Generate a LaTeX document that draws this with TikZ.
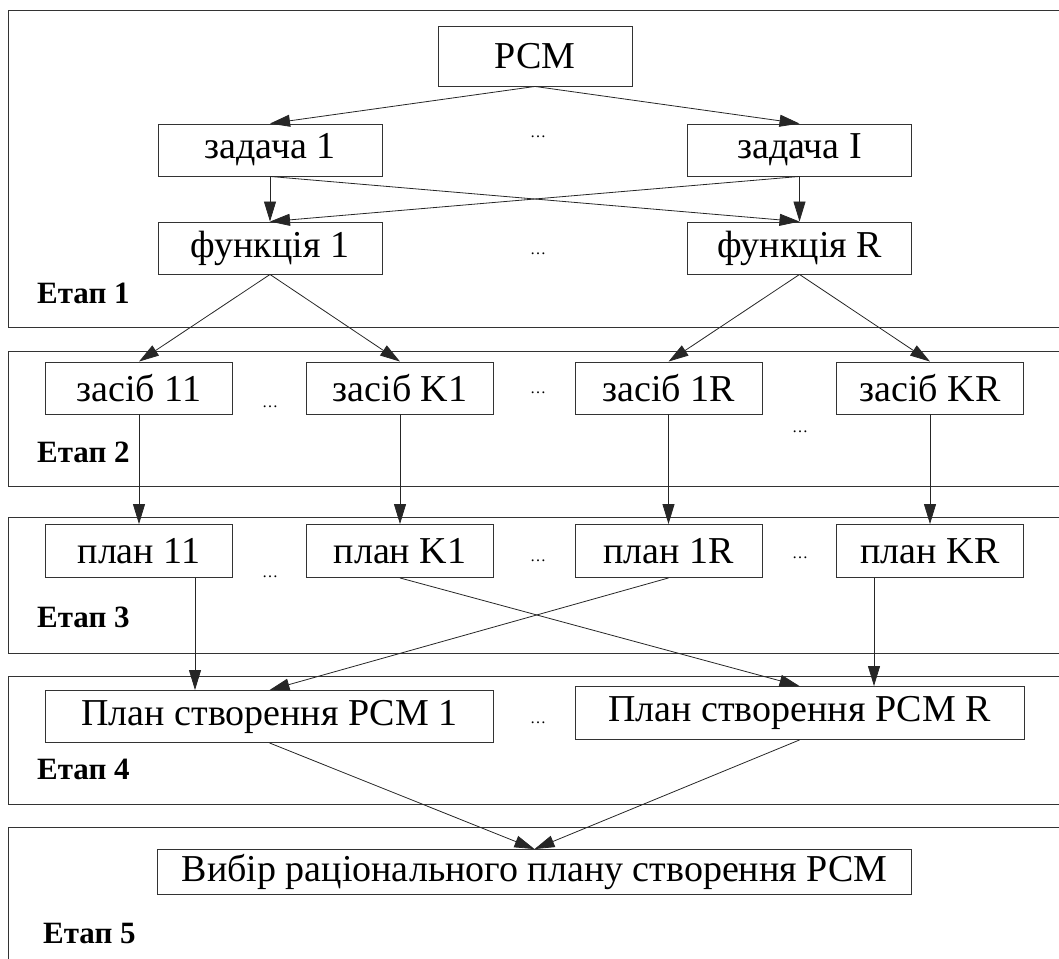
\documentclass[tikz,border=0pt]{standalone}
\usepackage{fontspec}
\setmainfont{Liberation Serif}
\usetikzlibrary{arrows.meta}
\tikzset {
    block/.style = {
        draw = black!80, line width = 0.9pt, inner sep = 0pt,
        minimum height = 52pt, font = \fontsize{38}{42}\selectfont
    },
    stage frame/.style = {draw = black!80, line width = 0.9pt},
    stage label/.style = {
        anchor = base west, inner sep = 0pt,
        font = \fontsize{31}{34}\selectfont\bfseries
    },
    dots/.style = {anchor = base, inner sep = 0pt, font = \fontsize{16}{18}\selectfont},
    arrowed/.style = {
        draw = black!85, line width = 0.8pt,
        -{Triangle[length = 20pt, width = 12pt]}
    }
}

\begin{document}
\begin{tikzpicture}[x = 1pt, y = -1pt]
    \useasboundingbox (0, 0) rectangle (1059, 958);
    \clip (0, 0) rectangle (1059, 958);
    %
    \draw [stage frame] (8, 10) rectangle (1080, 327);
    \draw [stage frame] (8, 351) rectangle (1080, 486);
    \draw [stage frame] (8, 517) rectangle (1080, 653);
    \draw [stage frame] (8, 676) rectangle (1080, 804);
    \draw [stage frame] (8, 827) rectangle (1080, 990);
    \node [stage label] at (37, 303) {Етап 1};
    \node [stage label] at (37, 462) {Етап 2};
    \node [stage label] at (37, 627) {Етап 3};
    \node [stage label] at (37, 779) {Етап 4};
    \node [stage label] at (43, 943) {Етап 5};
    %
    \node (pcm) [block, minimum width = 194pt, minimum height = 60pt] at (535, 56) {РСМ};
    \node (z1) [block, minimum width = 224pt] at (270, 150) {задача 1};
    \node (zi) [block, minimum width = 224pt] at (799.5, 150) {задача I};
    \node (f1) [block, minimum width = 224pt] at (270, 248) {функція 1};
    \node (fr) [block, minimum width = 224pt] at (799.5, 248) {функція R};
    \node (s11) [block, minimum width = 187pt] at (139, 388) {засіб 11};
    \node (sk1) [block, minimum width = 187pt] at (400, 388) {засіб K1};
    \node (s1r) [block, minimum width = 187pt] at (668.5, 388) {засіб 1R};
    \node (skr) [block, minimum width = 187pt] at (930, 388) {засіб KR};
    \node (p11) [block, minimum width = 187pt, minimum height = 53pt] at (139, 551) {план 11};
    \node (pk1) [block, minimum width = 187pt, minimum height = 53pt] at (400, 551) {план K1};
    \node (p1r) [block, minimum width = 187pt, minimum height = 53pt] at (668.5, 551) {план 1R};
    \node (pkr) [block, minimum width = 187pt, minimum height = 53pt] at (930, 551) {план KR};
    \node (plan1) [block, minimum width = 448pt] at (269.5, 716.5) {План створення РСМ 1};
    \node (planr) [block, minimum width = 449pt, minimum height = 53pt] at (799.5, 713) {План створення РСМ R};
    \node (choice) [block, minimum width = 754pt, minimum height = 45pt] at (534.5, 872) {Вибір раціонального плану створення РСМ};
    %
    \node [dots] at (538, 137) {\ldots};
    \node [dots] at (538, 254) {\ldots};
    \node [dots] at (270, 407) {\ldots};
    \node [dots] at (538, 393) {\ldots};
    \node [dots] at (800, 432) {\ldots};
    \node [dots] at (270, 577) {\ldots};
    \node [dots] at (538, 561) {\ldots};
    \node [dots] at (800, 558) {\ldots};
    \node [dots] at (538, 723) {\ldots};
    %
    \draw [arrowed] (pcm.south) -- (z1.north);
    \draw [arrowed] (pcm.south) -- (zi.north);
    \draw [arrowed] (z1.south) -- (f1.north);
    \draw [arrowed] (z1.south) -- (fr.north);
    \draw [arrowed] (zi.south) -- (fr.north);
    \draw [arrowed] (zi.south) -- (f1.north);
    \draw [arrowed] (f1.south) -- (s11.north);
    \draw [arrowed] (f1.south) -- (sk1.north);
    \draw [arrowed] (fr.south) -- (s1r.north);
    \draw [arrowed] (fr.south) -- (skr.north);
    \draw [arrowed] (s11.south) -- (p11.north);
    \draw [arrowed] (sk1.south) -- (pk1.north);
    \draw [arrowed] (s1r.south) -- (p1r.north);
    \draw [arrowed] (skr.south) -- (pkr.north);
    \draw [arrowed] ([xshift = 56pt] p11.south) -- ([xshift = 56pt] p11.south |- plan1.north);
    \draw [arrowed] (pk1.south) -- (planr.north);
    \draw [arrowed] (p1r.south) -- (plan1.north);
    \draw [arrowed] ([xshift = -56pt] pkr.south) -- ([xshift = -56pt] pkr.south |- planr.north);
    \draw [arrowed] (plan1.south) -- (choice.north);
    \draw [arrowed] (planr.south) -- (choice.north);
\end{tikzpicture}
\end{document}
